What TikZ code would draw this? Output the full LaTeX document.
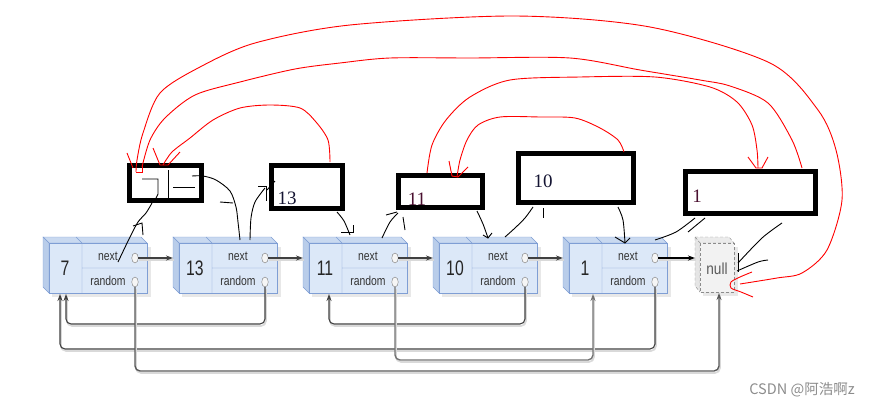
\documentclass[tikz,border=0pt]{standalone}
\usepackage{fontspec}
\setsansfont{Liberation Sans}
\newfontfamily\boxfont{Liberation Serif}
\newfontfamily\cjk{Noto Sans CJK SC}
\usetikzlibrary{arrows.meta,shapes.geometric}
\definecolor{nodefront}{HTML}{DCE8F8}
\definecolor{nodetop}{HTML}{C9D9F0}
\definecolor{nodeside}{HTML}{B9CDEA}
\definecolor{nodeline}{HTML}{7F9ED4}
\definecolor{numred}{HTML}{4A1030}
\definecolor{numblue}{HTML}{141432}
\newcommand\listnode[3]{%
  \begin{scope}[shift={(#2,0)}]
    \fill[black!9] (3,247) rectangle (102,297);
    \filldraw[nodeline,fill=nodetop] (-6,237) -- (92,237) -- (98,243) -- (0,243) -- cycle;
    \filldraw[nodeline,fill=nodeside] (-6,237) -- (0,243) -- (0,293) -- (-6,287) -- cycle;
    \filldraw[nodeline,fill=nodefront] (0,243) rectangle (98,293);
    \draw[nodeline] (27,237) -- (33,243) -- (33,293) (33,268) -- (98,268);
    \node[cell] (#1val) at (16,268) {\scalebox{0.75}[1]{#3}};
    \node[field] at (59,256) {\scalebox{0.8}[1]{next}};
    \node[field] at (59,281) {\scalebox{0.8}[1]{random}};
    \node[pin] (#1next) at (86,258) {};
    \node[pin] (#1rand) at (86,282) {};
    \coordinate (#1in) at (-6,258);
  \end{scope}}
\begin{document}
\begin{tikzpicture}[x=1pt,y=-1pt,
    cell/.style={font=\fontsize{21}{21}\selectfont\sffamily,text=black!85,inner sep=0},
    field/.style={font=\fontsize{13}{13}\selectfont\sffamily,text=black!80,inner sep=0},
    pin/.style={ellipse,draw=black!50,fill=black!4,minimum width=6.5pt,minimum height=10pt,inner sep=0},
    ptr/.style={draw=black!75,line width=1.1pt,rounded corners=5pt,-{Stealth[length=7pt,width=5pt]},
      preaction={draw=black!15,line width=1.6pt,-,transform canvas={shift={(1pt,-2pt)}}}},
    bbox/.style={draw=black,line width=5pt,inner sep=0,outer sep=0},
    boxnum/.style={font=\fontsize{19}{19}\selectfont\boxfont,inner sep=0},
    ink/.style={black,line width=0.9pt},
    redink/.style={red,line width=0.9pt}]
\useasboundingbox (0,0) rectangle (873,407);
\listnode{n7}{49}{7}
\listnode{n13}{179}{13}
\listnode{n11}{309}{11}
\listnode{n10}{439}{10}
\listnode{n1}{569}{1}
% null
\fill[black!9] (703,247) rectangle (738,296);
\filldraw[black!45,densely dashed,fill=black!8] (695,237) -- (729,237) -- (734,243) -- (700,243) -- cycle;
\filldraw[black!45,densely dashed,fill=black!10] (695,237) -- (700,243) -- (700,292) -- (695,286) -- cycle;
\filldraw[black!45,densely dashed,fill=black!5] (700,243) rectangle (734,292);
\node[font=\fontsize{16}{16}\selectfont\sffamily,text=black!65,inner sep=0] (null) at (717,269) {\scalebox{0.85}[1]{null}};
\coordinate (nullin) at (695,258);
\coordinate (nullbot) at (719,293);
\coordinate (b7a) at (60,294);
\coordinate (b7b) at (66,294);
\coordinate (b11) at (329,294);
\coordinate (b1) at (593,294);
% next pointers
\draw[ptr] (n7next.east) -- (n13in);
\draw[ptr] (n13next.east) -- (n11in);
\draw[ptr] (n11next.east) -- (n10in);
\draw[ptr] (n10next.east) -- (n1in);
\draw[ptr,draw=black,line width=1.6pt] (n1next.east) -- (nullin);
% random pointers
\draw[ptr] (n13rand.south) -- (n13rand.south |- 0,324) -| (b7b);
\draw[ptr] (n10rand.south) -- (n10rand.south |- 0,324) -| (b11);
\draw[ptr] (n1rand.south) -- (n1rand.south |- 0,349) -| (b7a);
\draw[ptr,draw=black!55,line width=1.4pt] (n11rand.south) -- (n11rand.south |- 0,360) -| (b1);
\draw[ptr,draw=black!65,line width=1.4pt] (n7rand.south) -- (n7rand.south |- 0,371) -| (nullbot);
% boxes
\node[bbox,minimum width=72pt,minimum height=35pt] (boxA) at (165.5,183) {};
\node[bbox,minimum width=71pt,minimum height=43pt] (boxB) at (307,187) {};
\node[bbox,minimum width=84pt,minimum height=32pt] (boxC) at (440.5,191.5) {};
\node[bbox,minimum width=115pt,minimum height=49pt] (boxD) at (576,178) {};
\node[bbox,minimum width=130pt,minimum height=42pt] (boxE) at (750.5,192.5) {};
\node[boxnum,text=numblue] (tB) at (287,198) {13};
\node[boxnum,text=numred] (tC) at (417,199) {11};
\node[boxnum,text=numblue] (tD) at (543,181) {10};
\node[boxnum,text=numred] (tE) at (697,196) {1};
% strokes in box A
\draw[ink] (142,179) -- (158,179) -- (158,194) -- (155,200);
\draw[ink] (168,170) -- (168,200);
\draw[ink] (173,187) -- (195,187);
% black ink
\draw[ink] plot[smooth] coordinates {(152,203) (146,213) (138,222) (130,237) (118,262)};
\draw[ink] (133,226) -- (142,223) -- (143,235);
\draw[ink] plot[smooth] coordinates {(192,176) (203,176) (216,180) (230,191) (236,207) (238,222) (240,240)};
\draw[ink] (220,202) -- (233,203);
\draw[ink] plot[smooth] coordinates {(250,240) (251,218) (255,202) (265,188)};
\draw[ink] (258,186) -- (266,186) -- (266,201);
\draw[ink] (267,190) -- (275,181);
\draw[ink] plot[smooth] coordinates {(337,212) (344,221) (350,235)};
\draw[ink] (341,232) -- (353,232) -- (353,225);
\draw[ink] plot[smooth] coordinates {(382,238) (390,222) (398,213)};
\draw[ink] (386,215) -- (397,212);
\draw[ink] (405,230) -- (403,217);
\draw[ink] plot[smooth] coordinates {(477,211) (483,224) (488,238)};
\draw[ink] (483,235) -- (488,238) -- (492,233);
\draw[ink] plot[smooth] coordinates {(505,237) (515,228) (525,218) (533,207)};
\draw[ink] (543,208) -- (543,218);
\draw[ink] plot[smooth] coordinates {(618,207) (623,220) (625,243)};
\draw[ink] (615,237) -- (625,243) -- (630,238);
\draw[ink] plot[smooth] coordinates {(655,240) (676,232) (695,218)};
\draw[ink] (688,232) -- (705,218);
\draw[ink] (692,211) -- (712,211) -- (712,214);
\draw[ink] plot[smooth] coordinates {(782,223) (762,238) (738,263)};
\draw[ink] (738,253) -- (738,272);
\draw[ink] plot[smooth] coordinates {(737,271) (758,262) (768,260)};
% red ink
\draw[redink] plot[smooth] coordinates {(740,284) (777,278) (802,273) (827,250) (842,200) (836,150) (818,110) (770,63) (650,27) (515,16) (350,25) (255,43) (200,67) (160,93) (143,133) (137,160) (136,172)};
\draw[redink] (136,172) -- (142,172) -- (142,166);
\draw[redink] plot[smooth] coordinates {(802,168) (792,140) (768,103) (730,86) (700,80) (640,70) (570,58) (470,58) (390,58) (340,63) (295,69) (240,82) (195,95) (165,118) (150,140) (142,167)};
\draw[redink] (127,153) -- (133,168);
\draw[redink] plot[smooth] coordinates {(330,162) (328,140) (316,122) (300,108) (270,105) (240,108) (213,120) (190,138) (172,152) (163,165)};
\draw[redink] (153,148) -- (160,165) -- (168,165) -- (180,152);
\draw[redink] plot[smooth] coordinates {(427,173) (432,145) (446,120) (470,97) (510,80) (580,77) (655,77) (710,87) (737,102) (752,125) (757,150) (758,168)};
\draw[redink] (748,157) -- (756,168) -- (762,168) -- (768,157);
\draw[redink] plot[smooth] coordinates {(624,152) (618,140) (600,128) (575,118) (540,117) (500,117) (478,125) (467,140) (460,160) (457,177)};
\draw[redink] (449,161) -- (452,176) -- (458,177) -- (468,167);
\draw[redink] plot[smooth] coordinates {(752,272) (740,277) (731,282) (731,288) (741,292) (753,297)};
\node[font=\cjk\fontsize{14.5}{14.5}\selectfont,text=black!45,inner sep=0] (mark) at (802,390) {CSDN @阿浩啊z};
\end{tikzpicture}
\end{document}
